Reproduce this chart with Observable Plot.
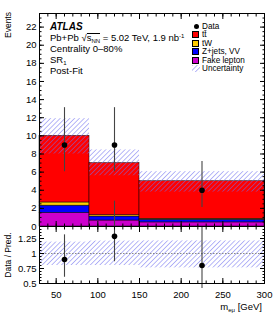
<!DOCTYPE html>
<html><head><meta charset="utf-8">
<script src="https://cdn.jsdelivr.net/npm/d3@7"></script>
<script src="https://cdn.jsdelivr.net/npm/@observablehq/plot@0.6"></script>
<style>
body{margin:0;background:#fff;}
#wrap{position:relative;width:278px;height:313px;font-family:"Liberation Sans",Arial,Helvetica,sans-serif;color:#000;overflow:hidden;background:#fff}
#wrap svg.p{position:absolute;left:0;overflow:visible}
.t{position:absolute;font-size:9.5px;white-space:nowrap;line-height:1}
.lo{position:relative;top:2px;font-size:6px;line-height:0}
.hi{position:relative;top:-3px;font-size:6px;line-height:0}
.ov{position:relative}
.ov::before{content:"";position:absolute;left:0;right:0;top:1.2px;border-top:0.8px solid #000}
.sw{position:absolute;width:7px;height:7px;border:0.6px solid #000;box-sizing:border-box}
</style></head><body><div id="wrap"></div>
<script>
// ---- data ----
const binLo = [30, 90, 150];
const binHi = [90, 150, 300];
const binCenter = [60, 120, 225];
const processes = ["Fake lepton", "Z+jets, VV", "tW", "tt\u0304"];
const processColors = ["#cc00cc", "#0000ff", "#ffcc00", "#ff0000"];
const fakeLepton = [1.5, 0.66, 0.45];
const zjetsVV = [0.8, 0.44, 0.3];
const tWvals = [0.35, 0.14, 0.1];
const ttbar = [7.35, 5.76, 4.15];
const dataVals = [9, 9, 4];
const dataLo = [6.04, 6.04, 2.09];
const dataHi = [13.11, 13.11, 7.16];
const uncLo = [8.0, 5.6, 3.8];
const uncHi = [11.9, 8.45, 6.05];
const yTicks = [0, 2, 4, 6, 8, 10, 12, 14, 16, 18, 20, 22];
const xTicks = [50, 100, 150, 200, 250, 300];
const ratioTicks = [0.5, 0.75, 1, 1.25];
const ratioTickLabels = ["0.5", "0.75", "1", "1.25"];

const wrap = document.getElementById("wrap");
// hatch pattern
const ns = "http://www.w3.org/2000/svg";
const defsSvg = document.createElementNS(ns, "svg");
defsSvg.setAttribute("width", 0); defsSvg.setAttribute("height", 0);
defsSvg.style.position = "absolute";
defsSvg.innerHTML = `<defs><pattern id="hatch" patternUnits="userSpaceOnUse" width="3.4" height="3.4" patternTransform="rotate(45)"><line x1="0" y1="0" x2="0" y2="3.4" stroke="#6f6ff0" stroke-width="1"/></pattern></defs>`;
wrap.appendChild(defsSvg);

const procVals = [fakeLepton, zjetsVV, tWvals, ttbar];
const stackRows = [];
binLo.forEach((lo, i) => processes.forEach((p, j) => stackRows.push({x1: lo, x2: binHi[i], y: procVals[j][i], proc: p})));
const totals = binLo.map((_, i) => procVals.reduce((s, a) => s + a[i], 0));
const bins = binLo.map((lo, i) => ({x1: lo, x2: binHi[i], xc: binCenter[i], d: dataVals[i], dlo: dataLo[i], dhi: dataHi[i], ulo: uncLo[i], uhi: uncHi[i], tot: totals[i]}));

const font = "Liberation Sans, Arial, Helvetica, sans-serif";
const xMinor = d3.range(30, 301, 10);
const yMinor = d3.range(0, 23.5, 0.5);
const rMinor = d3.range(0.5, 1.451, 0.05);
const blank = () => "";

function tickAxes(axisFn, anchorA, anchorB, major, minor) {
  const dim = axisFn === Plot.axisY ? "dx" : "dy";
  const sA = anchorA === "left" || anchorA === "top" ? 1 : -1;
  const sB = -sA;
  return [
    axisFn({anchor: anchorA, ticks: major, tickSize: 5, [dim]: 5 * sA, tickFormat: blank}),
    axisFn({anchor: anchorA, ticks: minor, tickSize: 2.5, [dim]: 2.5 * sA, tickFormat: blank}),
    axisFn({anchor: anchorB, ticks: major, tickSize: 5, [dim]: 5 * sB, tickFormat: blank}),
    axisFn({anchor: anchorB, ticks: minor, tickSize: 2.5, [dim]: 2.5 * sB, tickFormat: blank})
  ];
}

const main = Plot.plot({
  width: 278, height: 227,
  marginLeft: 39, marginRight: 14, marginTop: 13, marginBottom: 1,
  style: {fontFamily: font, fontSize: "9.5px", background: "transparent", color: "#000"},
  x: {domain: [30, 300]},
  y: {domain: [0, 23.5]},
  color: {domain: processes, range: processColors},
  marks: [
    Plot.rectY(stackRows, {x1: "x1", x2: "x2", y: "y", fill: "proc", stroke: "#000", strokeWidth: 0.5}),
    Plot.rectY(bins, {x1: "x1", x2: "x2", y1: "ulo", y2: "uhi", fill: "url(#hatch)"}),
    Plot.ruleX(bins, {x: "xc", y1: "dlo", y2: "dhi", stroke: "#444", strokeWidth: 1.1}),
    Plot.dot(bins, {x: "xc", y: "d", r: 2.8, fill: "#000"}),
    Plot.axisY({anchor: "left", ticks: yTicks, tickSize: 0, tickPadding: 3, label: null, fontSize: 9.5}),
    ...tickAxes(Plot.axisY, "left", "right", yTicks, yMinor),
    ...tickAxes(Plot.axisX, "top", "bottom", xTicks, xMinor),
    Plot.frame({stroke: "#000", strokeWidth: 1})
  ]
});
main.classList.add("p"); main.style.top = "0px";
wrap.appendChild(main);

const ratio = Plot.plot({
  width: 278, height: 93,
  marginLeft: 39, marginRight: 14, marginTop: 6, marginBottom: 30,
  style: {fontFamily: font, fontSize: "9.5px", background: "transparent", color: "#000"},
  x: {domain: [30, 300]},
  y: {domain: [0.5, 1.45]},
  marks: [
    Plot.rectY(bins, {x1: "x1", x2: "x2", y1: d => d.ulo / d.tot, y2: d => d.uhi / d.tot, fill: "url(#hatch)"}),
    Plot.ruleY([1], {stroke: "#888", strokeDasharray: "1.5,1.5", strokeWidth: 1}),
    Plot.ruleX(bins, {x: "xc", y1: d => d.dlo / d.tot, y2: d => d.dhi / d.tot, stroke: "#444", strokeWidth: 1.1}),
    Plot.dot(bins, {x: "xc", y: d => d.d / d.tot, r: 2.8, fill: "#000"}),
    Plot.axisY({anchor: "left", ticks: ratioTicks, tickSize: 0, tickPadding: 3, label: null, tickFormat: (d, i) => ratioTickLabels[i], fontSize: 9.5}),
    Plot.axisX({anchor: "bottom", ticks: xTicks, tickSize: 0, tickPadding: 8, label: null, fontSize: 9.5}),
    ...tickAxes(Plot.axisY, "left", "right", ratioTicks, rMinor),
    ...tickAxes(Plot.axisX, "top", "bottom", xTicks, xMinor),
    Plot.frame({stroke: "#000", strokeWidth: 1})
  ]
});
ratio.classList.add("p"); ratio.style.top = "220px";
wrap.appendChild(ratio);

function addText(html, x, y, opts = {}) {
  const d = document.createElement("div");
  d.className = "t"; d.innerHTML = html;
  d.style.left = x + "px"; d.style.top = y + "px";
  Object.assign(d.style, opts);
  wrap.appendChild(d);
  return d;
}
// ATLAS block
addText("ATLAS", 50, 22, {fontWeight: "bold", fontStyle: "italic", fontSize: "10px"});
addText('Pb+Pb √<span class="ov">s<span class="lo">NN</span></span> = 5.02 TeV, 1.9 nb<span class="hi">-1</span>', 50, 32.5);
addText("Centrality 0–80%", 50, 43.5);
addText('SR<span class="lo">1</span>', 50, 54.5);
addText("Post-Fit", 50, 65.5);

// legend
const legendLabels = ["Data", "tt\u0304", "tW", "Z+jets, VV", "Fake lepton", "Uncertainty"];
const legendColors = [null, "#ff0000", "#ffcc00", "#0000ff", "#cc00cc", "hatch"];
const ly0 = 22.5, lstep = 8.5;
legendLabels.forEach((lab, i) => {
  const y = ly0 + i * lstep;
  addText(lab, 202, y, {fontSize: "8.2px"});
  const c = legendColors[i];
  if (c === null) {
    const dot = document.createElement("div");
    dot.style.cssText = `position:absolute;left:193.5px;top:${y + 1.4}px;width:5px;height:5px;border-radius:50%;background:#000`;
    wrap.appendChild(dot);
  } else if (c === "hatch") {
    const s = document.createElementNS(ns, "svg");
    s.setAttribute("width", 8); s.setAttribute("height", 7);
    s.style.cssText = `position:absolute;left:192px;top:${y + 0.4}px`;
    s.innerHTML = '<rect width="8" height="7" fill="url(#hatch)"/>';
    wrap.appendChild(s);
  } else {
    const sw = document.createElement("div");
    sw.className = "sw"; sw.style.background = c;
    sw.style.left = "192px"; sw.style.top = (y + 0.4) + "px";
    wrap.appendChild(sw);
  }
});

// axis titles
addText("Events", 8, 12, {transformOrigin: "0 0", transform: "rotate(-90deg) translate(-100%, -50%)", fontSize: "8.5px"});
addText("Data / Pred.", 8, 255, {transformOrigin: "0 0", transform: "rotate(-90deg) translate(-50%, -50%)", fontSize: "8.5px"});
addText('m<span class="lo">eμ</span> [GeV]', 0, 302, {left: "auto", right: "16px"});
</script></body></html>
